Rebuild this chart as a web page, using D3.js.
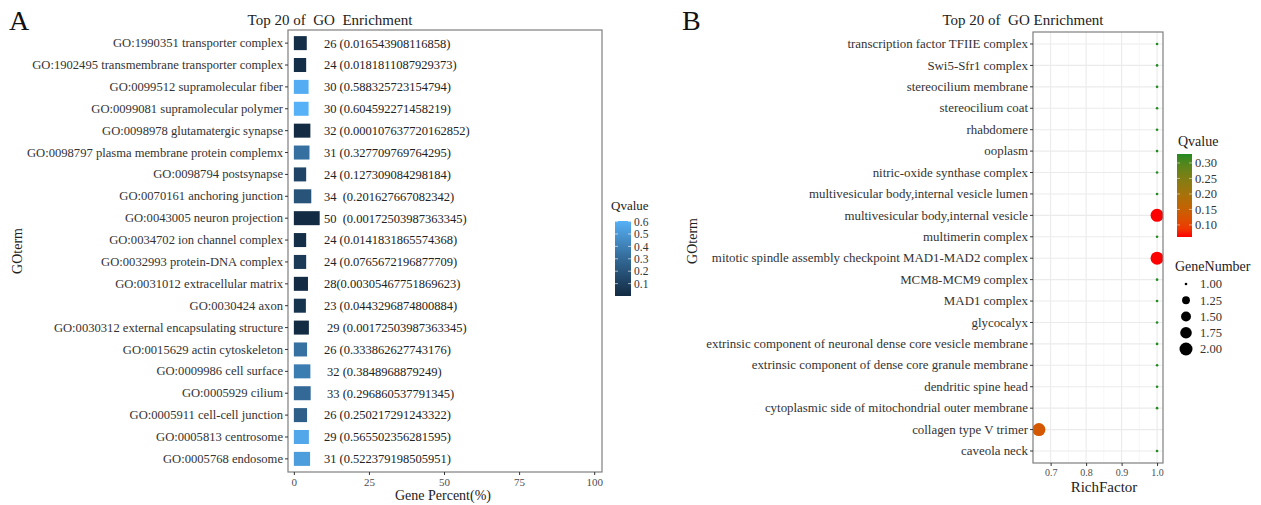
<!DOCTYPE html>
<html>
<head>
<meta charset="utf-8">
<script src="https://cdn.jsdelivr.net/npm/d3@7"></script>
<style>
  body { margin: 0; background: #fff; }
  text { font-family: "Liberation Serif", serif; }
</style>
</head>
<body>
<div id="wrapper"></div>
<script>
// ---- panel A data (top to bottom) ----
const termsA = [
  "GO:1990351 transporter complex",
  "GO:1902495 transmembrane transporter complex",
  "GO:0099512 supramolecular fiber",
  "GO:0099081 supramolecular polymer",
  "GO:0098978 glutamatergic synapse",
  "GO:0098797 plasma membrane protein complemx",
  "GO:0098794 postsynapse",
  "GO:0070161 anchoring junction",
  "GO:0043005 neuron projection",
  "GO:0034702 ion channel complex",
  "GO:0032993 protein-DNA complex",
  "GO:0031012 extracellular matrix",
  "GO:0030424 axon",
  "GO:0030312 external encapsulating structure",
  "GO:0015629 actin cytoskeleton",
  "GO:0009986 cell surface",
  "GO:0005929 cilium",
  "GO:0005911 cell-cell junction",
  "GO:0005813 centrosome",
  "GO:0005768 endosome"
];
const percentA = [4.3, 4.1, 4.9, 4.9, 5.5, 5.2, 4.1, 5.8, 8.6, 4.1,
                  4.1, 4.7, 4.0, 5.0, 4.4, 5.5, 5.6, 4.4, 5.0, 5.4];
const qvalueA = [0.016543908116858, 0.0181811087929373, 0.588325723154794, 0.604592271458219,
                 0.000107637720162852, 0.327709769764295, 0.127309084298184, 0.201627667082342,
                 0.00172503987363345, 0.0141831865574368, 0.0765672196877709, 0.00305467751869623,
                 0.0443296874800884, 0.00172503987363345, 0.333862627743176, 0.3848968879249,
                 0.296860537791345, 0.250217291243322, 0.565502356281595, 0.522379198505951];
const labelA = [
  "26 (0.016543908116858)", "24 (0.0181811087929373)", "30 (0.588325723154794)",
  "30 (0.604592271458219)", "32 (0.000107637720162852)", "31 (0.327709769764295)",
  "24 (0.127309084298184)", "34  (0.201627667082342)", "50  (0.00172503987363345)",
  "24 (0.0141831865574368)", "24 (0.0765672196877709)", "28(0.00305467751869623)",
  "23 (0.0443296874800884)", " 29 (0.00172503987363345)", "26 (0.333862627743176)",
  " 32 (0.3848968879249)", " 33 (0.296860537791345)", "26 (0.250217291243322)",
  "29 (0.565502356281595)", "31 (0.522379198505951)"
];
const xTicksA = [0, 25, 50, 75, 100];
const legendTicksA = [0.1, 0.2, 0.3, 0.4, 0.5, 0.6];

// ---- panel B data (top to bottom) ----
const termsB = [
  "transcription factor TFIIE complex",
  "Swi5-Sfr1 complex",
  "stereocilium membrane",
  "stereocilium coat",
  "rhabdomere",
  "ooplasm",
  "nitric-oxide synthase complex",
  "multivesicular body,internal vesicle lumen",
  "multivesicular body,internal vesicle",
  "multimerin complex",
  "mitotic spindle assembly checkpoint MAD1-MAD2 complex",
  "MCM8-MCM9 complex",
  "MAD1 complex",
  "glycocalyx",
  "extrinsic component of neuronal dense core vesicle membrane",
  "extrinsic component of dense core granule membrane",
  "dendritic spine head",
  "cytoplasmic side of mitochondrial outer membrane",
  "collagen type V trimer",
  "caveola neck"
];
const richB = [1, 1, 1, 1, 1, 1, 1, 1, 1, 1, 1, 1, 1, 1, 1, 1, 1, 1, 0.667, 1];
const geneB = [1, 1, 1, 1, 1, 1, 1, 1, 2, 1, 2, 1, 1, 1, 1, 1, 1, 1, 2, 1];
const qvalueB = [0.329, 0.329, 0.329, 0.329, 0.329, 0.329, 0.329, 0.329, 0.061, 0.329,
                 0.061, 0.329, 0.329, 0.329, 0.329, 0.329, 0.329, 0.329, 0.13, 0.329];
const xTicksB = [0.7, 0.8, 0.9, 1.0];
const legendTicksB = [0.10, 0.15, 0.20, 0.25, 0.30];
const sizeTicksB = [1.00, 1.25, 1.50, 1.75, 2.00];

const W = 1261, H = 505;
const svg = d3.select("#wrapper").append("svg")
    .attr("width", W)
    .attr("height", H);

const gray = "#4d4d4d";

// ================= Panel A =================
const boxA = {left: 288, right: 602, top: 30, bottom: 472};

const xA = d3.scaleLinear().domain([-1.95, 102.6]).range([boxA.left, boxA.right]);
const yA = d3.scaleBand().domain(termsA).range([boxA.top, boxA.bottom])
    .paddingOuter(0.1).paddingInner(0);
const colorA = d3.scaleLinear()
    .domain([d3.min(qvalueA), d3.max(qvalueA)])
    .range(["#132B43", "#56B1F7"])
    .interpolate(d3.interpolateLab);

const gA = svg.append("g");

gA.selectAll(".barA")
  .data(termsA)
  .join("rect")
    .attr("class", "barA")
    .attr("x", xA(0))
    .attr("y", (d, i) => yA(d) + yA.bandwidth() * 0.18)
    .attr("width", (d, i) => xA(percentA[i]) - xA(0))
    .attr("height", yA.bandwidth() * 0.64)
    .attr("fill", (d, i) => colorA(qvalueA[i]));

gA.selectAll(".lblA")
  .data(termsA)
  .join("text")
    .attr("class", "lblA")
    .attr("x", xA(10))
    .attr("y", d => yA(d) + yA.bandwidth() / 2)
    .attr("dy", "0.35em")
    .style("white-space", "pre")
    .attr("font-size", 12.5)
    .attr("fill", "#222")
    .text((d, i) => labelA[i]);

gA.append("rect")
    .attr("x", boxA.left).attr("y", boxA.top)
    .attr("width", boxA.right - boxA.left).attr("height", boxA.bottom - boxA.top)
    .attr("fill", "none").attr("stroke", "#7f7f7f").attr("stroke-width", 1.2);

const yAxisA = gA.append("g")
    .attr("transform", `translate(${boxA.left},0)`)
    .call(d3.axisLeft(yA).tickSize(3).tickPadding(2));
yAxisA.select(".domain").remove();
yAxisA.selectAll("line").attr("stroke", "#333");
yAxisA.selectAll("text")
    .attr("font-family", "Liberation Serif")
    .attr("font-size", 12.6)
    .attr("fill", "#333");

const xAxisA = gA.append("g")
    .attr("transform", `translate(0,${boxA.bottom})`)
    .call(d3.axisBottom(xA).tickValues(xTicksA).tickSize(3).tickPadding(3));
xAxisA.select(".domain").remove();
xAxisA.selectAll("line").attr("stroke", "#333");
xAxisA.selectAll("text")
    .attr("font-family", "Liberation Serif")
    .attr("font-size", 11)
    .attr("fill", gray);

gA.append("text")
    .attr("x", 443).attr("y", 500)
    .attr("text-anchor", "middle")
    .attr("font-size", 14)
    .attr("fill", "#222")
    .text("Gene Percent(%)");

gA.append("text")
    .attr("transform", "translate(22,251) rotate(-90)")
    .attr("text-anchor", "middle")
    .attr("font-size", 14)
    .attr("fill", "#222")
    .text("GOterm");

gA.append("text")
    .attr("x", 330).attr("y", 25)
    .attr("text-anchor", "middle")
    .style("white-space", "pre")
    .attr("font-size", 15)
    .attr("fill", "#222")
    .text("Top 20 of  GO  Enrichment");

gA.append("text")
    .attr("x", 9).attr("y", 30)
    .attr("font-size", 28)
    .attr("fill", "#111")
    .text("A");

// legend A
const defs = svg.append("defs");
const legA = {x: 615, w: 16, top: 221, bottom: 296};
const legScaleA = d3.scaleLinear().domain(colorA.domain()).range([legA.bottom, legA.top]);
const gradA = defs.append("linearGradient").attr("id", "gradA")
    .attr("x1", 0).attr("y1", 1).attr("x2", 0).attr("y2", 0);
d3.range(0, 1.01, 0.1).forEach(t => {
  gradA.append("stop").attr("offset", t)
    .attr("stop-color", colorA(colorA.domain()[0] + t * (colorA.domain()[1] - colorA.domain()[0])));
});
const gLegA = svg.append("g");
gLegA.append("text")
    .attr("x", 611).attr("y", 210)
    .attr("font-size", 13).attr("fill", "#222")
    .text("Qvalue");
gLegA.append("rect")
    .attr("x", legA.x).attr("y", legA.top)
    .attr("width", legA.w).attr("height", legA.bottom - legA.top)
    .attr("fill", "url(#gradA)");
const legAxisA = gLegA.append("g")
    .attr("transform", `translate(${legA.x + legA.w},0)`)
    .call(d3.axisRight(legScaleA).tickValues(legendTicksA).tickSize(0).tickPadding(3)
      .tickFormat(d3.format(".1f")));
legAxisA.select(".domain").remove();
legAxisA.selectAll("text").attr("font-family", "Liberation Serif").attr("font-size", 11.5).attr("fill", "#333");
legendTicksA.forEach(v => {
  gLegA.append("line").attr("x1", legA.x).attr("x2", legA.x + 3)
    .attr("y1", legScaleA(v)).attr("y2", legScaleA(v)).attr("stroke", "#fff").attr("stroke-opacity", 0.6);
  gLegA.append("line").attr("x1", legA.x + legA.w - 3).attr("x2", legA.x + legA.w)
    .attr("y1", legScaleA(v)).attr("y2", legScaleA(v)).attr("stroke", "#fff").attr("stroke-opacity", 0.6);
});

// ================= Panel B =================
const boxB = {left: 1033, right: 1163, top: 32, bottom: 463};

const xB = d3.scaleLinear().domain([0.6503, 1.0167]).range([boxB.left, boxB.right]);
const yB = d3.scaleBand().domain(termsB).range([boxB.top, boxB.bottom])
    .paddingOuter(0.06).paddingInner(0);
const colorB = d3.scaleLinear()
    .domain([0.061, 0.329])
    .range(["#ff0000", "#228B22"])
    .interpolate(d3.interpolateLab);
const sizeB = d3.scaleLinear().domain([0, 1]).range([1.3, 6.5]);
const radius = v => sizeB(Math.sqrt((v - 1) / (2 - 1)));

const gB = svg.append("g");

defs.append("clipPath").attr("id", "clipB")
  .append("rect")
    .attr("x", boxB.left).attr("y", boxB.top)
    .attr("width", boxB.right - boxB.left).attr("height", boxB.bottom - boxB.top);

// grid
const minorX = [0.65, 0.75, 0.85, 0.95];
gB.selectAll(".minorB").data(minorX).join("line")
    .attr("x1", d => xB(d)).attr("x2", d => xB(d))
    .attr("y1", boxB.top).attr("y2", boxB.bottom)
    .attr("stroke", "#f2f2f2").attr("stroke-width", 0.6);
gB.selectAll(".majorB").data(xTicksB).join("line")
    .attr("x1", d => xB(d)).attr("x2", d => xB(d))
    .attr("y1", boxB.top).attr("y2", boxB.bottom)
    .attr("stroke", "#ebebeb").attr("stroke-width", 1.1);
gB.selectAll(".rowB").data(termsB).join("line")
    .attr("x1", boxB.left).attr("x2", boxB.right)
    .attr("y1", d => yB(d) + yB.bandwidth() / 2).attr("y2", d => yB(d) + yB.bandwidth() / 2)
    .attr("stroke", "#ebebeb").attr("stroke-width", 1.1);

gB.append("g").attr("clip-path", "url(#clipB)")
  .selectAll("circle")
  .data(termsB)
  .join("circle")
    .attr("cx", (d, i) => xB(richB[i]))
    .attr("cy", d => yB(d) + yB.bandwidth() / 2)
    .attr("r", (d, i) => radius(geneB[i]))
    .attr("fill", (d, i) => colorB(qvalueB[i]));

gB.append("rect")
    .attr("x", boxB.left).attr("y", boxB.top)
    .attr("width", boxB.right - boxB.left).attr("height", boxB.bottom - boxB.top)
    .attr("fill", "none").attr("stroke", "#7f7f7f").attr("stroke-width", 1.2);

const yAxisB = gB.append("g")
    .attr("transform", `translate(${boxB.left},0)`)
    .call(d3.axisLeft(yB).tickSize(3).tickPadding(2));
yAxisB.select(".domain").remove();
yAxisB.selectAll("line").attr("stroke", "#333");
yAxisB.selectAll("text")
    .attr("font-family", "Liberation Serif")
    .attr("font-size", 12.9)
    .attr("fill", "#333");

const xAxisB = gB.append("g")
    .attr("transform", `translate(0,${boxB.bottom})`)
    .call(d3.axisBottom(xB).tickValues(xTicksB).tickSize(3).tickPadding(3)
      .tickFormat(d3.format(".1f")));
xAxisB.select(".domain").remove();
xAxisB.selectAll("line").attr("stroke", "#333");
xAxisB.selectAll("text")
    .attr("font-family", "Liberation Serif")
    .attr("font-size", 10)
    .attr("fill", gray);

gB.append("text")
    .attr("x", 1104).attr("y", 492)
    .attr("text-anchor", "middle")
    .attr("font-size", 15)
    .attr("fill", "#222")
    .text("RichFactor");

gB.append("text")
    .attr("transform", "translate(697,241) rotate(-90)")
    .attr("text-anchor", "middle")
    .attr("font-size", 14)
    .attr("fill", "#222")
    .text("GOterm");

gB.append("text")
    .attr("x", 1023).attr("y", 25)
    .attr("text-anchor", "middle")
    .style("white-space", "pre")
    .attr("font-size", 15)
    .attr("fill", "#222")
    .text("Top 20 of  GO Enrichment");

gB.append("text")
    .attr("x", 682).attr("y", 30)
    .attr("font-size", 28)
    .attr("fill", "#111")
    .text("B");

// legend B: colour
const legB = {x: 1177, w: 15, top: 154, bottom: 237};
const legScaleB = d3.scaleLinear().domain(colorB.domain()).range([legB.bottom, legB.top]);
const gradB = defs.append("linearGradient").attr("id", "gradB")
    .attr("x1", 0).attr("y1", 1).attr("x2", 0).attr("y2", 0);
d3.range(0, 1.01, 0.1).forEach(t => {
  gradB.append("stop").attr("offset", t)
    .attr("stop-color", colorB(colorB.domain()[0] + t * (colorB.domain()[1] - colorB.domain()[0])));
});
const gLegB = svg.append("g");
gLegB.append("text")
    .attr("x", 1178).attr("y", 146)
    .attr("font-size", 14).attr("fill", "#222")
    .text("Qvalue");
gLegB.append("rect")
    .attr("x", legB.x).attr("y", legB.top)
    .attr("width", legB.w).attr("height", legB.bottom - legB.top)
    .attr("fill", "url(#gradB)");
const legAxisB = gLegB.append("g")
    .attr("transform", `translate(${legB.x + legB.w},0)`)
    .call(d3.axisRight(legScaleB).tickValues(legendTicksB).tickSize(0).tickPadding(3)
      .tickFormat(d3.format(".2f")));
legAxisB.select(".domain").remove();
legAxisB.selectAll("text").attr("font-family", "Liberation Serif").attr("font-size", 12.5).attr("fill", "#333");
legendTicksB.forEach(v => {
  gLegB.append("line").attr("x1", legB.x).attr("x2", legB.x + 3)
    .attr("y1", legScaleB(v)).attr("y2", legScaleB(v)).attr("stroke", "#fff").attr("stroke-opacity", 0.5);
  gLegB.append("line").attr("x1", legB.x + legB.w - 3).attr("x2", legB.x + legB.w)
    .attr("y1", legScaleB(v)).attr("y2", legScaleB(v)).attr("stroke", "#fff").attr("stroke-opacity", 0.5);
});

// legend B: size
gLegB.append("text")
    .attr("x", 1175).attr("y", 271)
    .attr("font-size", 14).attr("fill", "#222")
    .text("GeneNumber");
const sizeRowY = d3.scaleLinear().domain([1, 2]).range([284, 349]);
gLegB.selectAll(".sizeDot").data(sizeTicksB).join("circle")
    .attr("cx", 1186)
    .attr("cy", d => sizeRowY(d))
    .attr("r", d => radius(d))
    .attr("fill", "#000");
gLegB.selectAll(".sizeLbl").data(sizeTicksB).join("text")
    .attr("x", 1200)
    .attr("y", d => sizeRowY(d))
    .attr("dy", "0.35em")
    .attr("font-size", 12.5)
    .attr("fill", "#333")
    .text(d => d3.format(".2f")(d));
</script>
</body>
</html>
